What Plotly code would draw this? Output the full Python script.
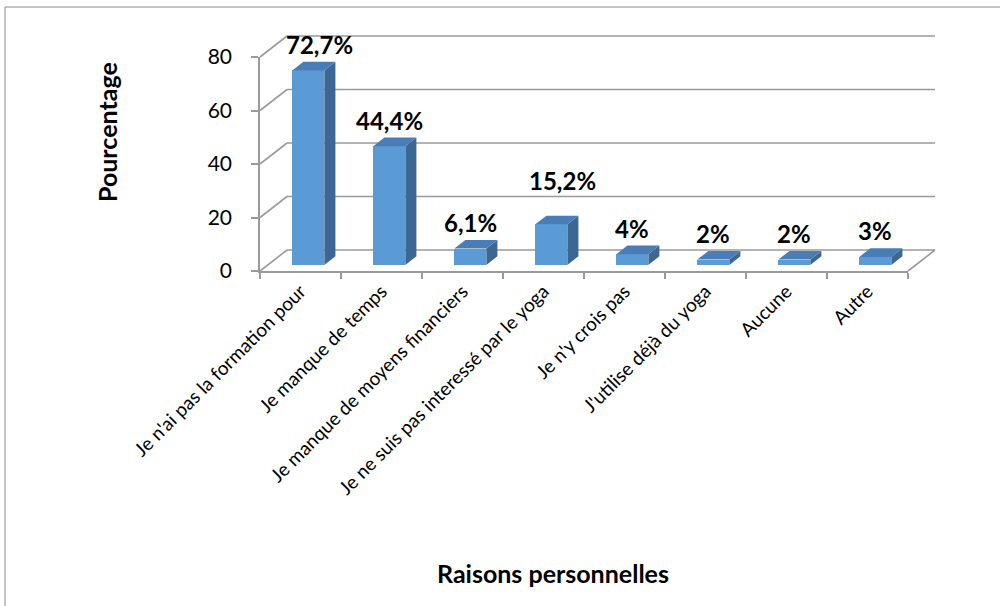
import plotly.graph_objects as go

# ---- data -------------------------------------------------------------
categories = [
    "Je n'ai pas la formation pour",
    "Je manque de temps",
    "Je manque de moyens financiers",
    "Je ne suis pas interessé par le yoga",
    "Je n'y crois pas",
    "J'utilise déjà du yoga",
    "Aucune",
    "Autre",
]
values = [72.7, 44.4, 6.1, 15.2, 4, 2, 2, 3]
value_labels = ["72,7%", "44,4%", "6,1%", "15,2%", "4%", "2%", "2%", "3%"]
y_ticks = [0, 20, 40, 60, 80]

# ---- geometry of the pseudo-3D box (pixels) ------------------------------
W, H = 1000, 606
X0 = 260          # front-left corner of the floor
CAT = 81          # pixels per category
Y0 = 271          # value 0 on the front axis
VPX = 2.675       # pixels per percentage point
DEPTH_X, DEPTH_Y = 27, 21   # full floor depth, oblique offset
BAR_D0, BAR_D1 = 0.29, 0.70 # bar front / back as fraction of depth
BAR_W = 32

FONT = "Lato"
GRID = "#9a9a9a"
FRONT, SIDE, TOP = "#5b9bd5", "#3c6792", "#4a7db6"

n = len(categories)

def dx(d):
    """depth fraction -> category units"""
    return d * DEPTH_X / CAT

def dy(d):
    """depth fraction -> value units"""
    return d * DEPTH_Y / VPX

fig = go.Figure()

# invisible trace so that the front category / value axes get drawn
fig.add_trace(go.Scatter(x=categories, y=[0] * n, mode="markers",
                         marker=dict(opacity=0), xaxis="x", yaxis="y",
                         hoverinfo="skip", showlegend=False))

# front faces of the columns
bar_x = [i + dx(BAR_D0) for i in range(n)]
bar_base = dy(BAR_D0)
bar_w = BAR_W / CAT
fig.add_trace(go.Bar(
    x=bar_x, y=values, base=[bar_base] * n, width=bar_w,
    marker=dict(color=FRONT, line=dict(width=0)),
    xaxis="x2", yaxis="y2", hoverinfo="skip", showlegend=False,
))

# right side and top faces
ddx = dx(BAR_D1 - BAR_D0)
ddy = dy(BAR_D1 - BAR_D0)
side_x, side_y, top_x, top_y = [], [], [], []
for xc, v in zip(bar_x, values):
    xl, xr = xc - bar_w / 2, xc + bar_w / 2
    b, t = bar_base, bar_base + v
    side_x += [xr, xr, xr + ddx, xr + ddx, xr, None]
    side_y += [b, t, t + ddy, b + ddy, b, None]
    top_x += [xl, xr, xr + ddx, xl + ddx, xl, None]
    top_y += [t, t, t + ddy, t + ddy, t, None]
fig.add_trace(go.Scatter(x=side_x, y=side_y, mode="lines", fill="toself",
                         fillcolor=SIDE, line=dict(width=0, color=SIDE),
                         xaxis="x2", yaxis="y2", hoverinfo="skip", showlegend=False))
fig.add_trace(go.Scatter(x=top_x, y=top_y, mode="lines", fill="toself",
                         fillcolor=TOP, line=dict(width=0, color=TOP),
                         xaxis="x2", yaxis="y2", hoverinfo="skip", showlegend=False))

# back-wall gridlines and floor outline
x_left, x_right = -0.5, n - 0.5
shapes = []
for v in y_ticks:
    shapes.append(dict(type="line", xref="x2", yref="y2", layer="below",
                       x0=x_left, y0=v, x1=x_left + dx(1), y1=v + dy(1),
                       line=dict(color=GRID, width=1.6)))
    shapes.append(dict(type="line", xref="x2", yref="y2", layer="below",
                       x0=x_left + dx(1), y0=v + dy(1), x1=x_right + dx(1), y1=v + dy(1),
                       line=dict(color=GRID, width=1.6)))
shapes.append(dict(type="line", xref="x2", yref="y2", layer="below",
                   x0=x_right, y0=0, x1=x_right + dx(1), y1=dy(1),
                   line=dict(color=GRID, width=1.6)))
# chart frame
shapes.append(dict(type="rect", xref="paper", yref="paper",
                   x0=5 / W, y0=-0.05, x1=1.05, y1=1 - 7 / H,
                   line=dict(color="#8c8c8c", width=1), layer="below"))

# value labels above the columns
label_nudge = {0: (11, 0), 3: (11, 18)}
annotations = []
for i, (xc, v, txt) in enumerate(zip(bar_x, values, value_labels)):
    nx, ny = label_nudge.get(i, (0, 0))
    annotations.append(dict(
        x=xc, y=bar_base + v, xref="x2", yref="y2", text=txt, showarrow=False,
        yanchor="middle", xanchor="center", yshift=26 + ny, xshift=nx,
        font=dict(family=FONT, size=24, color="black", weight="bold"),
    ))

# axis titles
annotations.append(dict(x=107 / W, y=1 - 132 / H, xref="paper", yref="paper",
                        xanchor="center", yanchor="middle",
                        text="Pourcentage", textangle=-90, showarrow=False,
                        font=dict(family=FONT, size=25, color="black", weight="bold")))
annotations.append(dict(x=553 / W, y=1 - 573 / H, xref="paper", yref="paper",
                        xanchor="center", yanchor="middle",
                        text="Raisons personnelles", showarrow=False,
                        font=dict(family=FONT, size=25, color="black", weight="bold")))

y_top_px = Y0 - max(y_ticks) * VPX
fig.update_layout(
    width=W, height=H,
    margin=dict(l=0, r=0, t=0, b=0),
    paper_bgcolor="white", plot_bgcolor="rgba(0,0,0,0)",
    showlegend=False, template="none",
    shapes=shapes, annotations=annotations,
    xaxis=dict(
        type="category", categoryorder="array", categoryarray=categories,
        tickvals=categories, ticktext=categories,
        domain=[X0 / W, (X0 + n * CAT) / W], range=[-0.5, n - 0.5],
        anchor="y", tickson="boundaries", ticks="outside", ticklen=6,
        tickcolor=GRID, tickwidth=1.6, showline=True, linecolor=GRID, linewidth=1.6,
        showgrid=False, zeroline=False, tickangle=-45, automargin=False,
        tickfont=dict(family=FONT, size=19, color="black"), fixedrange=True,
    ),
    yaxis=dict(
        domain=[(H - Y0) / H, (H - y_top_px) / H], range=[0, max(y_ticks)],
        anchor="x", tickvals=y_ticks, ticks="outside", ticklen=7,
        tickcolor=GRID, tickwidth=1.6, showline=True, linecolor=GRID, linewidth=1.6,
        showgrid=False, zeroline=False, automargin=False, ticklabelstandoff=15,
        tickfont=dict(family=FONT, size=21, color="black"), fixedrange=True,
    ),
    xaxis2=dict(domain=[0, 1], range=[(0 - X0) / CAT - 0.5, (W - X0) / CAT - 0.5],
                anchor="y2", visible=False, fixedrange=True),
    yaxis2=dict(domain=[0, 1], range=[(Y0 - H) / VPX, Y0 / VPX],
                anchor="x2", visible=False, fixedrange=True),
    bargap=0,
)

fig.write_html("out.html")
